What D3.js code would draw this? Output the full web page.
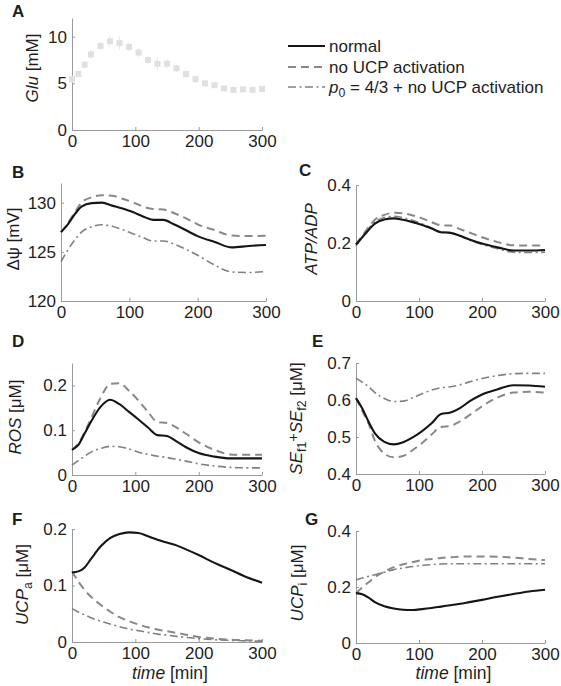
<!DOCTYPE html>
<html><head><meta charset="utf-8">
<script src="https://cdn.jsdelivr.net/npm/d3@7"></script>
<style>
body{margin:0;background:#fff;}
svg{font-family:"Liberation Sans", Arial, Helvetica, sans-serif;}
</style></head><body>
<svg id="chart" width="561" height="686"></svg>
<script>
// ---------- data ----------
const timeGrid = [0,10,20,30,45,60,75,90,105,120,135,150,165,180,200,225,250,275,300];
const xTicks = [0,100,200,300];

const gluTimes = [0,10,20,30,45,60,75,90,105,120,135,150,165,180,195,210,225,240,255,270,285,300];
const gluMean  = [5.45,6.0,7.0,8.1,9.0,9.5,9.3,8.9,8.3,7.5,7.1,7.1,6.6,6.0,5.45,5.0,4.8,4.45,4.3,4.35,4.3,4.4];
const gluErr   = [0.4,0.3,0.4,0.5,0.5,0.6,0.7,0.5,0.5,0.5,0.7,0.5,0.4,0.4,0.4,0.3,0.3,0.3,0.3,0.3,0.3,0.3];
const gluTicks = [0,5,10];

const dpsiNormal = [127.0,127.8,128.8,129.6,129.95,130.0,129.7,129.4,129.05,128.6,128.25,128.25,127.8,127.3,126.6,126.0,125.45,125.6,125.7];
const dpsiNoUCP  = [127.0,127.9,129.0,130.0,130.55,130.75,130.7,130.4,130.05,129.6,129.35,129.3,128.95,128.5,127.8,127.2,126.65,126.6,126.65];
const dpsiP0     = [124.0,125.2,126.2,127.0,127.55,127.75,127.6,127.25,126.85,126.45,126.1,126.1,125.8,125.35,124.65,123.65,122.95,122.9,123.0];
const dpsiTicks  = [120,125,130];

const atpNormal = [0.195,0.22,0.245,0.267,0.281,0.285,0.28,0.272,0.262,0.25,0.237,0.235,0.225,0.212,0.198,0.185,0.174,0.174,0.176];
const atpNoUCP  = [0.195,0.225,0.255,0.28,0.297,0.304,0.302,0.295,0.285,0.272,0.261,0.26,0.248,0.236,0.22,0.203,0.192,0.191,0.192];
const atpP0     = [0.19,0.22,0.25,0.273,0.288,0.292,0.287,0.278,0.266,0.252,0.238,0.236,0.225,0.21,0.195,0.18,0.168,0.167,0.168];
const atpTicks  = [0,0.2,0.4];

const rosNormal = [0.056,0.067,0.093,0.119,0.152,0.168,0.158,0.141,0.124,0.106,0.089,0.087,0.075,0.062,0.049,0.041,0.037,0.037,0.037];
const rosNoUCP  = [0.056,0.07,0.096,0.126,0.172,0.203,0.205,0.188,0.166,0.141,0.118,0.116,0.106,0.092,0.073,0.056,0.046,0.045,0.045];
const rosP0     = [0.022,0.032,0.042,0.051,0.059,0.064,0.063,0.058,0.051,0.046,0.042,0.039,0.035,0.031,0.025,0.02,0.017,0.016,0.016];
const rosTicks  = [0,0.1,0.2];

const seNormal = [0.605,0.577,0.541,0.51,0.487,0.48,0.486,0.499,0.516,0.537,0.562,0.566,0.578,0.596,0.615,0.629,0.64,0.639,0.636];
const seNoUCP  = [0.605,0.57,0.536,0.49,0.455,0.445,0.449,0.465,0.484,0.507,0.527,0.53,0.542,0.559,0.583,0.607,0.62,0.622,0.62];
const seP0     = [0.659,0.648,0.636,0.62,0.604,0.596,0.597,0.606,0.617,0.627,0.633,0.636,0.641,0.649,0.658,0.666,0.671,0.672,0.672];
const seTicks  = [0.4,0.5,0.6,0.7];

const ucpaNormal = [0.123,0.125,0.132,0.147,0.169,0.184,0.191,0.194,0.193,0.187,0.181,0.176,0.171,0.164,0.154,0.14,0.128,0.115,0.105];
const ucpaNoUCP  = [0.125,0.107,0.092,0.08,0.066,0.054,0.044,0.037,0.031,0.026,0.022,0.019,0.016,0.013,0.009,0.006,0.004,0.003,0.002];
const ucpaP0     = [0.059,0.053,0.048,0.043,0.037,0.032,0.027,0.023,0.02,0.017,0.014,0.012,0.01,0.008,0.006,0.004,0.003,0.002,0.001];
const ucpaTicks  = [0,0.1,0.2];

const ucpiNormal = [0.178,0.174,0.162,0.146,0.131,0.123,0.119,0.118,0.121,0.125,0.13,0.135,0.14,0.146,0.154,0.165,0.175,0.184,0.19];
const ucpiNoUCP  = [0.178,0.198,0.217,0.235,0.255,0.271,0.281,0.289,0.296,0.3,0.304,0.306,0.308,0.309,0.309,0.308,0.305,0.3,0.296];
const ucpiP0     = [0.225,0.232,0.238,0.244,0.253,0.262,0.268,0.273,0.277,0.28,0.282,0.283,0.283,0.283,0.283,0.283,0.283,0.283,0.283];
const ucpiTicks  = [0,0.2,0.4];

const legendLabels = ["normal","no UCP activation","p0 = 4/3 + no UCP activation"];

// ---------- styles ----------
const styles = [
  {stroke:"#151515", width:2.1, dash:null},
  {stroke:"#888888", width:2.0, dash:"8,5"},
  {stroke:"#808080", width:1.6, dash:"8,3.5,2,3.5"}
];
const axisColor = "#9a9a9a";
const textColor = "#1e1e1e";
const FS = 17;

const svg = d3.select("#chart");

const panels = [
  {letter:"A", lx:12, ly:17, left:72, right:262, top:18, bottom:130, domain:[0,12], ticks:gluTicks,
   ylabel:[{t:"Glu",i:true},{t:" [mM]"}], labX:38, labDy:-6, glu:true},
  {letter:"B", lx:12, ly:178, left:61, right:266, top:183, bottom:301, domain:[120,132], ticks:dpsiTicks,
   ylabel:[{t:"Δψ [mV]"}], labX:19, labDy:-3, series:[dpsiNormal,dpsiNoUCP,dpsiP0]},
  {letter:"C", lx:299, ly:176, left:356, right:545, top:185, bottom:301, domain:[0,0.4], ticks:atpTicks,
   ylabel:[{t:"ATP/ADP",i:true}], labX:317, labDy:-4, series:[atpNormal,atpNoUCP,atpP0]},
  {letter:"D", lx:12, ly:347, left:72, right:262, top:363, bottom:475, domain:[0,0.25], ticks:rosTicks,
   ylabel:[{t:"ROS",i:true},{t:" [μM]"}], labX:21, labDy:-2, series:[rosNormal,rosNoUCP,rosP0]},
  {letter:"E", lx:312, ly:347, left:356, right:545, top:363, bottom:474, domain:[0.4,0.7], ticks:seTicks,
   ylabel:[{t:"SE",i:true},{t:"f1",sub:true},{t:"+",sup:true},{t:"SE",i:true},{t:"f2",sub:true},{t:" [μM]"}], labX:302, labDy:0, series:[seNormal,seNoUCP,seP0]},
  {letter:"F", lx:12, ly:525, left:72, right:262, top:529, bottom:642, domain:[0,0.2], ticks:ucpaTicks,
   ylabel:[{t:"UCP",i:true},{t:"a",sub:true},{t:" [μM]"}], labX:28, labDy:-1, series:[ucpaNormal,ucpaNoUCP,ucpaP0], xlabel:true},
  {letter:"G", lx:305, ly:525, left:356, right:545, top:531, bottom:643, domain:[0,0.4], ticks:ucpiTicks,
   ylabel:[{t:"UCP",i:true},{t:"i",sub:true},{t:" [μM]"}], labX:303, labDy:-4, series:[ucpiNormal,ucpiNoUCP,ucpiP0], xlabel:true}
];

function richText(sel, parts, size){
  let shift = 0;
  parts.forEach(p=>{
    const ts = sel.append("tspan").text(p.t);
    if(p.i) ts.attr("font-style","italic");
    let target = 0;
    if(p.sub){ target = 4; ts.attr("font-size", size*0.72); }
    if(p.sup){ target = -4; ts.attr("font-size", size*0.85); }
    ts.attr("dy", target - shift);
    shift = target;
  });
}

panels.forEach(p=>{
  const x = d3.scaleLinear().domain([0,300]).range([p.left,p.right]);
  const y = d3.scaleLinear().domain(p.domain).range([p.bottom,p.top]);
  const g = svg.append("g");

  const xa = g.append("g").attr("transform",`translate(0,${p.bottom})`)
    .call(d3.axisBottom(x).tickValues(xTicks).tickSizeInner(-3).tickSizeOuter(0).tickPadding(5).tickFormat(d3.format("d")));
  const ya = g.append("g").attr("transform",`translate(${p.left},0)`)
    .call(d3.axisLeft(y).tickValues(p.ticks).tickSizeInner(-3).tickSizeOuter(0).tickPadding(5).tickFormat(d=>String(+d.toFixed(3))));
  [xa,ya].forEach(a=>{
    a.select(".domain").attr("stroke",axisColor).attr("stroke-width",1);
    a.selectAll(".tick line").attr("stroke",axisColor);
    a.selectAll("text").attr("fill",textColor).style("font-size",FS+"px").style("font-family","'Liberation Sans', Arial, sans-serif");
  });

  svg.append("text").attr("x",p.lx).attr("y",p.ly).attr("font-weight","bold")
    .attr("font-size",17).attr("fill",textColor).text(p.letter);

  const cy = (p.top+p.bottom)/2 + p.labDy;
  const yl = svg.append("text").attr("transform",`translate(${p.labX},${cy}) rotate(-90)`)
    .attr("text-anchor","middle").attr("font-size",FS).attr("fill",textColor);
  richText(yl, p.ylabel, FS);

  if(p.xlabel){
    const xl = svg.append("text").attr("x",(p.left+p.right)/2+3).attr("y",679)
      .attr("text-anchor","middle").attr("font-size",17.5).attr("fill",textColor);
    richText(xl,[{t:"time",i:true},{t:" [min]"}],17.5);
  }

  if(p.glu){
    const gg = g.append("g");
    gluTimes.forEach((t,i)=>{
      gg.append("line").attr("x1",x(t)).attr("x2",x(t))
        .attr("y1",y(gluMean[i]-gluErr[i])).attr("y2",y(gluMean[i]+gluErr[i]))
        .attr("stroke","#e8e8e8").attr("stroke-width",1);
    });
    gg.selectAll("rect").data(gluTimes).join("rect")
      .attr("x",(d)=>x(d)-3).attr("y",(d,i)=>y(gluMean[i])-3)
      .attr("width",6).attr("height",6).attr("fill","#e0e0e0");
  }
  if(p.series){
    const line = d3.line().x((d,i)=>x(timeGrid[i])).y(d=>y(d)).curve(d3.curveMonotoneX);
    [2,1,0].forEach(k=>{
      g.append("path").datum(p.series[k]).attr("d",line).attr("fill","none")
        .attr("stroke",styles[k].stroke).attr("stroke-width",styles[k].width)
        .attr("stroke-dasharray",styles[k].dash).attr("stroke-linejoin","round");
    });
  }
});

// legend
const lg = svg.append("g");
const legY = [46,67,87];
legendLabels.forEach((lab,k)=>{
  lg.append("line").attr("x1",288).attr("x2",325).attr("y1",legY[k]).attr("y2",legY[k])
    .attr("stroke",styles[k].stroke).attr("stroke-width",styles[k].width).attr("stroke-dasharray",styles[k].dash);
  const t = lg.append("text").attr("x",329).attr("y",legY[k]+6).attr("font-size",FS).attr("fill",textColor);
  if(k===2){
    richText(t,[{t:"p",i:true},{t:"0",sub:true},{t:lab.slice(2)}],FS);
  } else t.text(lab);
});
</script>
</body></html>
